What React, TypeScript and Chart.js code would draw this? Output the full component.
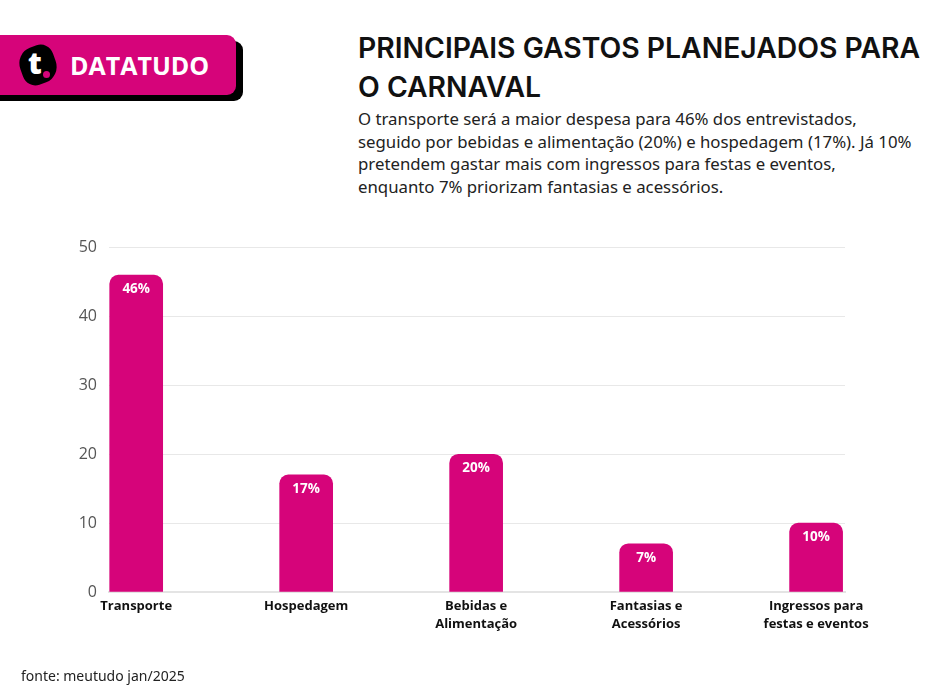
import React, { useEffect, useRef } from "react";
import { Chart, registerables } from "chart.js";

Chart.register(...registerables);

const categories: string[][] = [
  ["Transporte"],
  ["Hospedagem"],
  ["Bebidas e", "Alimentação"],
  ["Fantasias e", "Acessórios"],
  ["Ingressos para", "festas e eventos"],
];
const values: number[] = [46, 17, 20, 7, 10];
const valueLabels: string[] = ["46%", "17%", "20%", "7%", "10%"];
const yMin = 0;
const yMax = 50;
const yStep = 10;

const MAGENTA = "#D6047A";

const barLabelPlugin = {
  id: "barLabels",
  afterDatasetsDraw(chart: any) {
    const ctx = chart.ctx;
    const meta = chart.getDatasetMeta(0);
    ctx.save();
    ctx.fillStyle = "#ffffff";
    ctx.font = "bold 13.5px 'Open Sans', sans-serif";
    ctx.textAlign = "center";
    ctx.textBaseline = "middle";
    meta.data.forEach((el: any, i: number) => {
      ctx.fillText(valueLabels[i], el.x, el.y + 14);
    });
    ctx.restore();
  },
};

function ChartCanvas() {
  const ref = useRef<HTMLCanvasElement>(null);
  useEffect(() => {
    if (!ref.current) return;
    const chart = new Chart(ref.current, {
      type: "bar",
      data: {
        datasets: [
          {
            data: values.map((v, i) => ({ x: i, y: v })),
            backgroundColor: MAGENTA,
            borderRadius: { topLeft: 9, topRight: 9, bottomLeft: 0, bottomRight: 0 },
            borderSkipped: false,
            barThickness: 53,
          } as any,
        ],
      },
      options: {
        responsive: false,
        animation: false,
        devicePixelRatio: 1,
        layout: { padding: { left: 0, right: 97, top: 13, bottom: 0 } },
        plugins: { legend: { display: false }, tooltip: { enabled: false } },
        scales: {
          x: {
            type: "linear",
            offset: false,
            min: -0.16,
            max: 4.17,
            afterBuildTicks: (scale: any) => {
              scale.ticks = categories.map((_, i) => ({ value: i }));
            },
            afterFit: (scale: any) => {
              scale.height = 98;
            },
            grid: { display: false, drawTicks: false },
            border: { display: true, color: "#e4e4e4", width: 2 },
            ticks: {
              autoSkip: false,
              maxRotation: 0,
              padding: 6,
              color: "#111111",
              font: { family: "'Open Sans', sans-serif", size: 13, weight: "bold", lineHeight: 1.35 },
              callback: (v: any) => categories[v as number] ?? "",
            },
          },
          y: {
            min: yMin,
            max: yMax,
            afterFit: (scale: any) => {
              scale.width = 109;
            },
            grid: { color: "#e8e8e8", drawTicks: false },
            border: { display: false },
            ticks: {
              stepSize: yStep,
              padding: 12,
              color: "#555555",
              font: { family: "'Open Sans', sans-serif", size: 16 },
            },
          },
        },
      } as any,
      plugins: [barLabelPlugin],
    });
    return () => chart.destroy();
  }, []);
  return (
    <canvas
      ref={ref}
      width={942}
      height={464}
      style={{ position: "absolute", left: 0, top: 226, width: 942, height: 464 }}
    />
  );
}

export default function App() {
  useEffect(() => {
    document.body.style.margin = "0";
  }, []);
  return (
    <div
      style={{
        position: "relative",
        width: 942,
        height: 697,
        background: "#ffffff",
        overflow: "hidden",
        fontFamily: "'Open Sans', sans-serif",
      }}
    >
      {/* Logo */}
      <div
        style={{
          position: "absolute",
          left: -12,
          top: 41,
          width: 255,
          height: 60,
          background: "#000",
          borderRadius: 9,
        }}
      />
      <div
        style={{
          position: "absolute",
          left: -12,
          top: 35,
          width: 248,
          height: 60,
          background: MAGENTA,
          borderRadius: 9,
        }}
      />
      <div
        style={{
          position: "absolute",
          left: 20,
          top: 46,
          width: 36,
          height: 38,
          background: "#000",
          borderRadius: "45% 35% 45% 35%",
          transform: "rotate(-20deg)",
        }}
      />
      <div
        style={{
          position: "absolute",
          left: 28,
          top: 45,
          color: "#fff",
          fontFamily: "'Open Sans', sans-serif",
          fontWeight: 800,
          fontSize: 30,
          lineHeight: "36px",
        }}
      >
        t
      </div>
      <div
        style={{
          position: "absolute",
          left: 43,
          top: 71,
          width: 7,
          height: 7,
          borderRadius: "50%",
          background: MAGENTA,
        }}
      />
      <div
        style={{
          position: "absolute",
          left: 70,
          top: 47,
          color: "#fff",
          fontFamily: "'Open Sans', sans-serif",
          fontWeight: 700,
          fontSize: 25,
          lineHeight: "36px",
        }}
      >
        DATATUDO
      </div>

      {/* Title */}
      <div
        style={{
          position: "absolute",
          left: 358,
          top: 29,
          width: 584,
          color: "#111",
          fontFamily: "Inter, sans-serif",
          fontWeight: 600,
          fontSize: 28.3,
          lineHeight: "39px",
        }}
      >
        PRINCIPAIS GASTOS PLANEJADOS PARA O CARNAVAL
      </div>
      <div
        style={{
          position: "absolute",
          left: 358,
          top: 108,
          width: 584,
          color: "#222",
          fontFamily: "'Noto Sans', sans-serif",
          fontSize: 16.8,
          lineHeight: "22.5px",
        }}
      >
        O transporte será a maior despesa para 46% dos entrevistados,
        <br />
        seguido por bebidas e alimentação (20%) e hospedagem (17%). Já 10%
        <br />
        pretendem gastar mais com ingressos para festas e eventos,
        <br />
        enquanto 7% priorizam fantasias e acessórios.
      </div>

      <ChartCanvas />

      <div
        style={{
          position: "absolute",
          left: 21,
          top: 666,
          color: "#222",
          fontFamily: "'Noto Sans', sans-serif",
          fontSize: 14,
          lineHeight: "20px",
        }}
      >
        fonte: meutudo jan/2025
      </div>
    </div>
  );
}
